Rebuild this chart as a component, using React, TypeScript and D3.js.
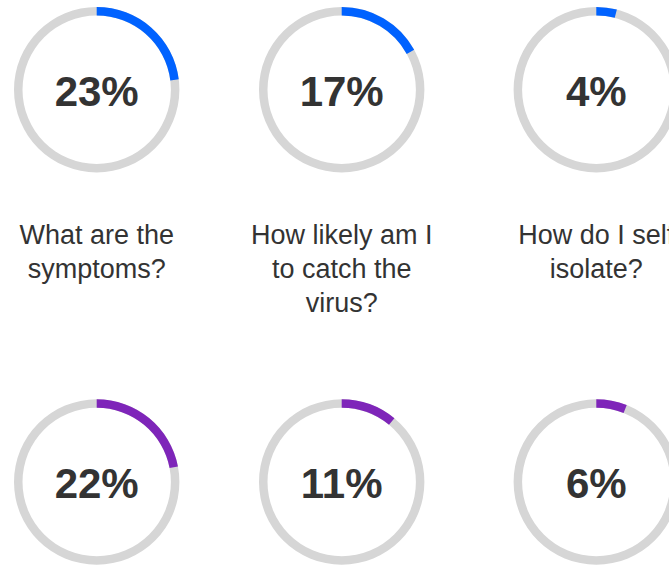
import React from "react";
import * as d3 from "d3";

// Data
const topValues = [23, 17, 4];
const bottomValues = [22, 11, 6];
const topLabels = ["What are the\nsymptoms?", "How likely am I\nto catch the\nvirus?", "How do I self\nisolate?"];
const bottomLabels = ["", "", ""];
const rowColors = ["#0062ff", "#7e25b9"];

// Layout
const W = 669;
const H = 565;
const colCenters = [96.7, 341.7, 596.3];
const rowCenters = [89.7, 482];
const rOuter = 82.7;
const rInner = 74.2;

const pctScale = d3.scaleLinear().domain([0, 100]).range([0, 2 * Math.PI]);
const arcGen = d3.arc<{ s: number; e: number }>()
  .innerRadius(rInner)
  .outerRadius(rOuter)
  .startAngle((d) => d.s)
  .endAngle((d) => d.e);

const FONT = "'Liberation Sans', Arial, Helvetica, sans-serif";

function Ring({ cx, cy, value, color, label }: { cx: number; cy: number; value: number; color: string; label: string }) {
  const lines = label ? label.split("\n") : [];
  return (
    <g transform={`translate(${cx},${cy})`}>
      <path d={arcGen({ s: 0, e: 2 * Math.PI }) || ""} fill="#d6d6d6" />
      <path d={arcGen({ s: 0, e: pctScale(value) }) || ""} fill={color} />
      <text
        x={0}
        y={16}
        textAnchor="middle"
        fontFamily={FONT}
        fontWeight="bold"
        fontSize={42}
        fill="#333333"
      >
        {value}%
      </text>
      {lines.map((ln, i) => (
        <text
          key={i}
          x={0}
          y={154.6 + i * 33.8}
          textAnchor="middle"
          fontFamily={FONT}
          fontSize={27}
          fill="#333333"
        >
          {ln}
        </text>
      ))}
    </g>
  );
}

export default function App() {
  const rows = [
    { values: topValues, labels: topLabels, color: rowColors[0] },
    { values: bottomValues, labels: bottomLabels, color: rowColors[1] },
  ];
  return (
    <div style={{ position: "absolute", left: 0, top: 0, width: W, height: H, overflow: "hidden", background: "#fff" }}>
      <svg width={W} height={H} style={{ display: "block" }}>
        <rect width={W} height={H} fill="#ffffff" />
        {rows.map((row, ri) =>
          row.values.map((v, ci) => (
            <Ring
              key={`${ri}-${ci}`}
              cx={colCenters[ci]}
              cy={rowCenters[ri]}
              value={v}
              color={row.color}
              label={row.labels[ci]}
            />
          ))
        )}
      </svg>
    </div>
  );
}
